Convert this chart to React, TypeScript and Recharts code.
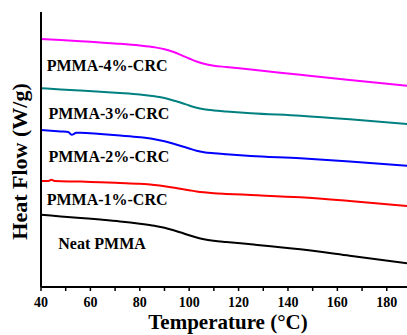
import React from 'react';
import { LineChart, Line, XAxis, YAxis, ReferenceDot } from 'recharts';

// x-axis ticks (labelled every 20, minor every 10)
const xTicks = [40, 50, 60, 70, 80, 90, 100, 110, 120, 130, 140, 150, 160, 170, 180];
const xLabelledTicks = [40, 60, 80, 100, 120, 140, 160, 180];
const xDomain: [number, number] = [40, 188.2];
const yDomain: [number, number] = [0, 27.5];

// Neat PMMA (black)
const tempNeat = [40, 48, 56, 64, 72, 80, 86, 90, 94, 97, 100, 103, 106, 110, 115, 125, 145, 165, 188.2];
const heatNeat = [7.22, 7.06, 6.9, 6.74, 6.56, 6.33, 6.12, 5.93, 5.65, 5.42, 5.17, 4.95, 4.78, 4.63, 4.5, 4.27, 3.77, 3.13, 2.37];

// PMMA-1%-CRC (red)
const temp1 = [40, 43, 44.2, 45.5, 56, 64, 72, 80, 86, 90, 94, 97, 100, 103, 106, 110, 115, 125, 145, 165, 188.2];
const heat1 = [10.6, 10.6, 10.72, 10.6, 10.54, 10.47, 10.4, 10.32, 10.2, 10.08, 9.93, 9.8, 9.68, 9.56, 9.47, 9.38, 9.31, 9.2, 8.97, 8.6, 8.1];

// PMMA-2%-CRC (blue)
const temp2 = [40, 48, 51, 52.4, 54.3, 56, 64, 72, 80, 86, 90, 94, 97, 100, 103, 106, 110, 115, 125, 145, 165, 188.2];
const heat2 = [15.7, 15.56, 15.51, 15.22, 15.42, 15.43, 15.3, 15.15, 14.98, 14.78, 14.57, 14.3, 14.08, 13.85, 13.63, 13.48, 13.37, 13.27, 13.1, 12.87, 12.55, 12.13];

// PMMA-3%-CRC (teal)
const temp3 = [40, 48, 56, 64, 72, 80, 86, 90, 94, 97, 100, 103, 106, 110, 115, 125, 145, 165, 188.2];
const heat3 = [19.87, 19.76, 19.64, 19.52, 19.4, 19.25, 19.07, 18.9, 18.63, 18.4, 18.15, 17.93, 17.78, 17.66, 17.56, 17.38, 17.13, 16.78, 16.3];

// PMMA-4%-CRC (magenta)
const temp4 = [40, 48, 56, 64, 72, 80, 86, 90, 94, 97, 100, 103, 106, 110, 115, 125, 145, 165, 188.2];
const heat4 = [24.8, 24.7, 24.58, 24.45, 24.32, 24.15, 23.97, 23.78, 23.47, 23.17, 22.85, 22.55, 22.32, 22.13, 22.0, 21.75, 21.22, 20.7, 20.13];

const seriesNames = ['Neat PMMA', 'PMMA-1%-CRC', 'PMMA-2%-CRC', 'PMMA-3%-CRC', 'PMMA-4%-CRC'];
const seriesColors = ['#000000', '#FF0000', '#0000FF', '#008080', '#FF00FF'];
const seriesTemps = [tempNeat, temp1, temp2, temp3, temp4];
const seriesHeats = [heatNeat, heat1, heat2, heat3, heat4];

// in-plot series labels (left edge temperature, baseline heat flow)
const labelTemps = [47.0, 42.3, 43.0, 43.0, 42.3];
const labelHeats = [3.85, 8.2, 12.5, 16.85, 21.65];

const xTitle = 'Temperature (°C)';
const yTitle = 'Heat Flow (W/g)';

const FONT = "'Liberation Serif', 'Times New Roman', serif";
const boldSerif = { fontFamily: FONT, fontWeight: 700 as const };

const build = (ts: number[], hs: number[]) => ts.map((t, i) => ({ t, hf: hs[i] }));

const renderXTick = (props: any) => {
  const { x, y, payload } = props;
  const v = payload?.value;
  const show = xLabelledTicks.includes(v);
  return (
    <g>
      {show ? (
        <text
          x={x}
          y={y + 10}
          textAnchor="middle"
          style={{ ...boldSerif, fontSize: 14, fill: '#000' }}
        >
          {String(v)}
        </text>
      ) : null}
    </g>
  );
};

export default function App() {
  return (
    <div style={{ position: 'absolute', left: 0, top: 0, width: 407, height: 335, background: '#fff' }}>
      <LineChart width={407} height={335} margin={{ top: 12, right: 0, bottom: 0, left: 0 }}>
        <XAxis
          dataKey="t"
          type="number"
          domain={xDomain}
          allowDataOverflow
          ticks={xTicks}
          interval={0}
          height={48}
          tickSize={4}
          tickMargin={6}
          axisLine={{ stroke: '#000', strokeWidth: 2 }}
          tickLine={{ stroke: '#000', strokeWidth: 1.5 }}
          tick={renderXTick}
          label={(p: any) => (
            <text
              x={228}
              y={329}
              textAnchor="middle"
              style={{ ...boldSerif, fontSize: 21, fill: '#000' }}
            >
              {xTitle}
            </text>
          )}
        />
        <XAxis
          xAxisId="top"
          orientation="top"
          type="number"
          domain={xDomain}
          allowDataOverflow
          height={0}
          tick={false}
          tickLine={false}
          axisLine={{ stroke: '#000', strokeWidth: 2 }}
        />
        <YAxis
          type="number"
          domain={yDomain}
          allowDataOverflow
          width={41}
          tick={false}
          tickLine={false}
          axisLine={{ stroke: '#000', strokeWidth: 2 }}
          label={(p: any) => (
            <text
              x={26.5}
              y={161.5}
              transform="rotate(-90 26.5 161.5)"
              textAnchor="middle"
              style={{ ...boldSerif, fontSize: 22, fill: '#000' }}
            >
              {yTitle}
            </text>
          )}
        />
        {seriesNames.map((name, i) => (
          <Line
            key={name}
            name={name}
            data={build(seriesTemps[i], seriesHeats[i])}
            dataKey="hf"
            type="monotone"
            stroke={seriesColors[i]}
            strokeWidth={2}
            dot={false}
            activeDot={false}
            isAnimationActive={false}
          />
        ))}
        {seriesNames.map((name, i) => (
          <ReferenceDot
            key={'lbl' + name}
            x={labelTemps[i]}
            y={labelHeats[i]}
            r={1}
            fill="none"
            stroke="none"
            label={{
              content: (p: any) => {
                const vb = p.viewBox || {};
                const x = (vb.x ?? 0) + (vb.width ?? 0) / 2;
                const y = (vb.y ?? 0) + (vb.height ?? 0) / 2;
                return (
                  <text
                    x={x}
                    y={y}
                    textAnchor="start"
                    style={{ ...boldSerif, fontSize: 16, fill: '#000' }}
                  >
                    {name}
                  </text>
                );
              },
            }}
          />
        ))}
      </LineChart>
    </div>
  );
}
